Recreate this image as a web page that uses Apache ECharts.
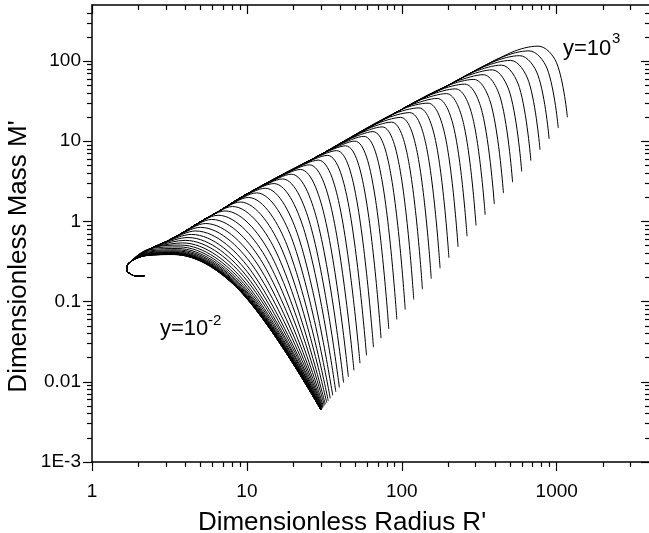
<!DOCTYPE html>
<html>
<head>
<meta charset="utf-8">
<script src="https://cdn.jsdelivr.net/npm/echarts@6/dist/echarts.min.js"></script>
<style>
  html, body { margin: 0; background: #fff; }
  #chart { width: 649px; height: 533px; }
</style>
</head>
<body>
<div id="chart"></div>
<script>
// axis ranges and tick labels
const xRange = [1, 4000];
const yRange = [0.001, 500];
const xMajor = [1, 10, 100, 1000];
const xLabels = ['1', '10', '100', '1000'];
const yMajor = [0.001, 0.01, 0.1, 1, 10, 100];
const yLabels = ['1E-3', '0.01', '0.1', '1', '10', '100'];

// all curve values are read off the log axes, in decades: log10 R', log10 M'
// hook at the high-density end, shared by every curve
const hookLogR = [0.338, 0.290, 0.255, 0.225, 0.236];
const hookLogM = [-0.676, -0.684, -0.662, -0.611, -0.523];
// upper envelope that the curves follow down to the hook
const envLogR = [0.369, 0.480, 0.584, 0.695, 0.806, 1.0, 1.477, 2.0, 2.301, 2.699];
const envLogM = [-0.350, -0.252, -0.143, -0.009, 0.111, 0.342, 0.833, 1.398, 1.699, 2.100];

// one entry per curve, y = 1e-2 (first) ... 1e3 (last)
// point where the curve leaves the envelope
const joinLogR = [0.351, 0.351, 0.352, 0.352, 0.353, 0.353, 0.354, 0.356, 0.358, 0.360, 0.363, 0.367, 0.372, 0.378, 0.386, 0.396, 0.409, 0.425, 0.444, 0.466, 0.493, 0.524, 0.558, 0.597, 0.638, 0.683, 0.731, 0.781, 0.833, 0.887, 0.942, 0.998, 1.054, 1.111, 1.169, 1.227, 1.285, 1.344, 1.403, 1.461, 1.520, 1.579, 1.638, 1.697, 1.757, 1.816, 1.875, 1.934, 1.993, 2.052, 2.112, 2.171, 2.230, 2.289, 2.349, 2.408, 2.467, 2.526, 2.585, 2.645, 2.704];
const joinLogM = [-0.426, -0.425, -0.424, -0.423, -0.421, -0.419, -0.416, -0.411, -0.406, -0.400, -0.391, -0.380, -0.367, -0.351, -0.335, -0.326, -0.315, -0.301, -0.284, -0.264, -0.238, -0.206, -0.170, -0.127, -0.078, -0.024, 0.030, 0.084, 0.143, 0.207, 0.273, 0.340, 0.398, 0.456, 0.516, 0.576, 0.635, 0.696, 0.757, 0.816, 0.879, 0.943, 1.007, 1.071, 1.135, 1.199, 1.263, 1.327, 1.390, 1.450, 1.510, 1.569, 1.628, 1.687, 1.747, 1.807, 1.866, 1.926, 1.985, 2.046, 2.105];
// maximum mass
const peakLogR = [0.527, 0.527, 0.528, 0.528, 0.529, 0.529, 0.530, 0.532, 0.534, 0.536, 0.539, 0.543, 0.548, 0.554, 0.562, 0.572, 0.585, 0.601, 0.620, 0.642, 0.669, 0.700, 0.734, 0.773, 0.814, 0.859, 0.907, 0.957, 1.009, 1.063, 1.118, 1.174, 1.230, 1.287, 1.345, 1.403, 1.461, 1.520, 1.579, 1.637, 1.696, 1.755, 1.814, 1.873, 1.933, 1.992, 2.051, 2.110, 2.169, 2.228, 2.288, 2.347, 2.406, 2.465, 2.525, 2.584, 2.643, 2.702, 2.761, 2.821, 2.880];
const peakLogM = [-0.413, -0.412, -0.411, -0.410, -0.408, -0.406, -0.403, -0.398, -0.393, -0.387, -0.378, -0.367, -0.354, -0.338, -0.318, -0.295, -0.268, -0.236, -0.201, -0.162, -0.119, -0.074, -0.026, 0.025, 0.077, 0.131, 0.186, 0.242, 0.299, 0.356, 0.414, 0.472, 0.530, 0.589, 0.648, 0.706, 0.765, 0.824, 0.883, 0.943, 1.002, 1.061, 1.120, 1.179, 1.238, 1.297, 1.357, 1.416, 1.475, 1.534, 1.594, 1.653, 1.712, 1.771, 1.830, 1.890, 1.949, 2.008, 2.067, 2.127, 2.186];
// knee of the falling branch
const kneeLogR = [0.955, 0.955, 0.955, 0.955, 0.956, 0.956, 0.956, 0.957, 0.958, 0.959, 0.961, 0.964, 0.967, 0.970, 0.974, 0.980, 0.987, 0.997, 1.007, 1.020, 1.035, 1.056, 1.079, 1.104, 1.132, 1.161, 1.192, 1.225, 1.259, 1.296, 1.333, 1.374, 1.415, 1.458, 1.504, 1.552, 1.601, 1.653, 1.705, 1.760, 1.815, 1.871, 1.928, 1.986, 2.044, 2.103, 2.162, 2.221, 2.281, 2.340, 2.400, 2.459, 2.519, 2.579, 2.640, 2.699, 2.759, 2.819, 2.879, 2.939, 2.999];
const kneeLogM = [-0.867, -0.866, -0.865, -0.864, -0.863, -0.862, -0.859, -0.856, -0.852, -0.847, -0.840, -0.832, -0.822, -0.810, -0.794, -0.776, -0.755, -0.730, -0.704, -0.673, -0.639, -0.604, -0.566, -0.525, -0.483, -0.439, -0.394, -0.346, -0.297, -0.246, -0.193, -0.138, -0.081, -0.022, 0.040, 0.104, 0.170, 0.238, 0.307, 0.379, 0.451, 0.524, 0.599, 0.673, 0.748, 0.824, 0.901, 0.977, 1.054, 1.130, 1.207, 1.284, 1.361, 1.438, 1.515, 1.592, 1.669, 1.746, 1.823, 1.901, 1.978];
// low-density end of each curve
const endLogR = [1.477, 1.477, 1.477, 1.477, 1.477, 1.477, 1.477, 1.477, 1.477, 1.477, 1.477, 1.478, 1.478, 1.478, 1.478, 1.479, 1.479, 1.480, 1.480, 1.482, 1.483, 1.485, 1.487, 1.490, 1.494, 1.500, 1.506, 1.515, 1.525, 1.538, 1.554, 1.574, 1.597, 1.624, 1.655, 1.691, 1.730, 1.772, 1.817, 1.866, 1.916, 1.968, 2.022, 2.077, 2.133, 2.190, 2.247, 2.304, 2.363, 2.421, 2.479, 2.538, 2.597, 2.656, 2.715, 2.774, 2.833, 2.892, 2.951, 3.010, 3.069];
const endLogM = [-2.347, -2.347, -2.347, -2.347, -2.347, -2.347, -2.347, -2.347, -2.347, -2.347, -2.346, -2.345, -2.345, -2.345, -2.345, -2.342, -2.342, -2.340, -2.340, -2.335, -2.333, -2.329, -2.324, -2.317, -2.308, -2.294, -2.281, -2.260, -2.237, -2.207, -2.171, -2.125, -2.072, -2.010, -1.939, -1.857, -1.768, -1.671, -1.568, -1.456, -1.342, -1.223, -1.099, -0.973, -0.845, -0.714, -0.584, -0.453, -0.318, -0.185, -0.052, 0.083, 0.218, 0.353, 0.488, 0.623, 0.758, 0.893, 1.029, 1.164, 1.299];

const log10 = Math.log10;
const pt = (lr, lm) => [Math.pow(10, lr), Math.pow(10, lm)];
const minorVals = (lo, hi) => {
  const out = [];
  for (let d = lo; d <= hi; d *= 10) for (let k = 2; k <= 9; k++) out.push(k * d);
  return out;
};
const xMinor = minorVals(1, 1000).filter(v => v < xRange[1]);
const yMinor = minorVals(0.001, 100).filter(v => v < yRange[1]);

const series = peakLogR.map((_, i) => {
  const data = hookLogR.map((r, k) => pt(r, hookLogM[k]));
  envLogR.forEach((r, k) => { if (r < joinLogR[i] - 0.03) data.push(pt(r, envLogM[k])); });
  data.push(pt(joinLogR[i], joinLogM[i]), pt(peakLogR[i], peakLogM[i]),
    pt(kneeLogR[i], kneeLogM[i]), pt(endLogR[i], endLogM[i]));
  return {
    type: 'line', xAxisIndex: 0, yAxisIndex: 0, showSymbol: false, smooth: 0.35,
    data, silent: true, lineStyle: { color: '#000', width: 1 }
  };
});

const font = 'Liberation Sans, Arial, sans-serif';
const noLine = { show: false };
function tickAxis(kind, position, values, len, inside, labels, labelVals) {
  const logRange = kind === 'x' ? xRange.map(log10) : yRange.map(log10);
  return {
    type: 'value', position, min: logRange[0], max: logRange[1],
    axisLine: position === 'top' || position === 'right'
      ? { show: len > 6, onZero: false, lineStyle: { color: '#000', width: 1.5 } }
      : { show: false, onZero: false },
    splitLine: noLine,
    axisTick: { show: true, customValues: values.map(log10), length: len, inside,
      lineStyle: { color: '#000', width: 1.2 } },
    axisLabel: labels ? {
      show: true, customValues: labelVals.map(log10), fontSize: 19, fontFamily: font, color: '#000',
      margin: kind === 'x' ? 20 : 11,
      formatter: v => labels[labelVals.findIndex(m => Math.abs(log10(m) - v) < 1e-6)]
    } : { show: false }
  };
}

const chart = echarts.init(document.getElementById('chart'));
chart.setOption({
  animation: false,
  grid: { left: 92, top: 5, width: 558, height: 457, containLabel: false, outerBoundsMode: 'none' },
  xAxis: [
    { type: 'log', min: xRange[0], max: xRange[1], position: 'bottom',
      axisLine: { onZero: false, lineStyle: { color: '#000', width: 1.5 } },
      axisTick: noLine, axisLabel: noLine, splitLine: noLine,
      name: "Dimensionless Radius R'", nameLocation: 'middle', nameGap: 48,
      nameTextStyle: { fontSize: 26, fontFamily: font, color: '#000', padding: [0, 58, 0, 0] } },
    tickAxis('x', 'bottom', xMajor, 9, false, xLabels, xMajor),
    tickAxis('x', 'bottom', xMinor, 5, false),
    tickAxis('x', 'top', xMajor, 9, true),
    tickAxis('x', 'top', xMinor, 5, true)
  ],
  yAxis: [
    { type: 'log', min: yRange[0], max: yRange[1], position: 'left',
      axisLine: { onZero: false, lineStyle: { color: '#000', width: 1.5 } },
      axisTick: noLine, axisLabel: noLine, splitLine: noLine,
      name: "Dimensionless Mass M'", nameLocation: 'middle', nameGap: 60,
      nameTextStyle: { fontSize: 26, fontFamily: font, color: '#000', padding: [0, 46, 0, 0] } },
    tickAxis('y', 'left', yMajor, 9, false, yLabels, yMajor),
    tickAxis('y', 'left', yMinor, 5, false),
    tickAxis('y', 'right', yMajor, 9, true),
    tickAxis('y', 'right', yMinor, 5, true)
  ],
  graphic: [
    { type: 'text', x: 563, y: 38, style: { text: 'y=10', font: '22px ' + font, fill: '#000' } },
    { type: 'text', x: 612, y: 31, style: { text: '3', font: '15px ' + font, fill: '#000' } },
    { type: 'text', x: 160, y: 318, style: { text: 'y=10', font: '22px ' + font, fill: '#000' } },
    { type: 'text', x: 208, y: 313, style: { text: '-2', font: '15px ' + font, fill: '#000' } }
  ],
  series
});
</script>
</body>
</html>
